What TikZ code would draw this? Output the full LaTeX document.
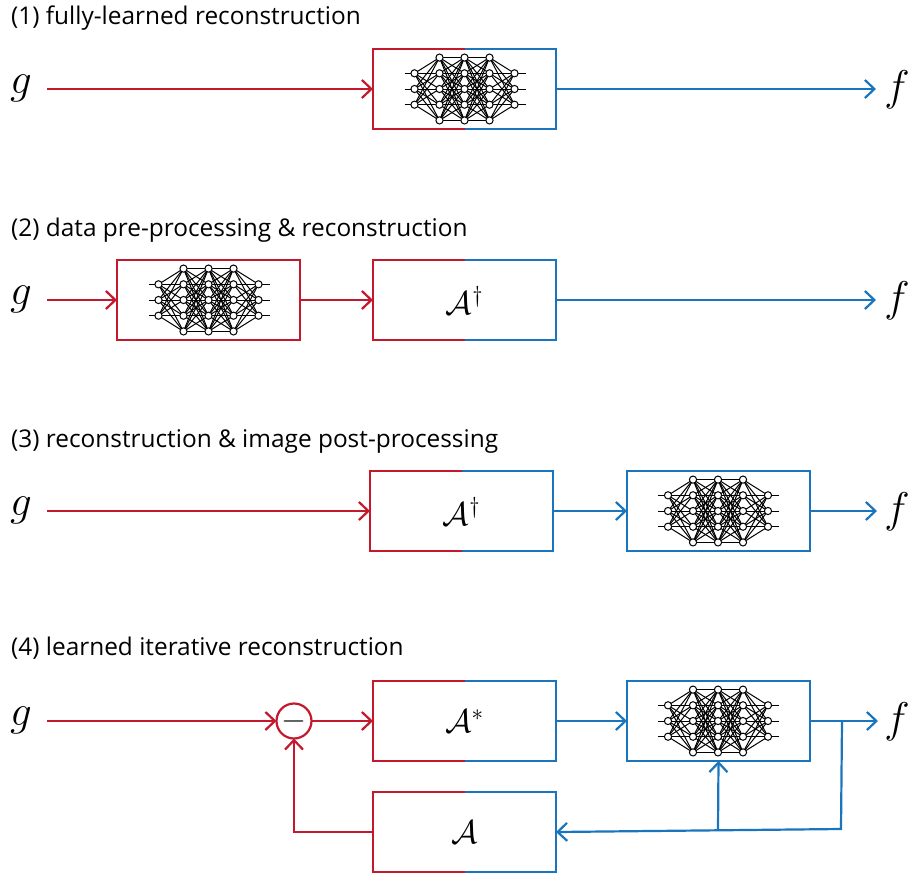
\documentclass[tikz,border=0pt]{standalone}
\usepackage{fix-cm}
\usepackage{fontspec}
\setmainfont{Open Sans}
\usetikzlibrary{arrows.meta}
\definecolor{myred}{HTML}{C4182D}
\definecolor{myblue}{HTML}{1B75BC}
\tikzset{
  conn/.style={line width=2.2pt,-{Straight Barb[length=9.5pt,width=18pt,line width=2.2pt]}},
  plain/.style={line width=2.2pt},
  redline/.style={color=myred},
  blueline/.style={color=myblue},
  boxnode/.style={minimum width=183pt,minimum height=80pt,inner sep=0pt,outer sep=0pt,font=\fontsize{33}{33}\selectfont},
  heading/.style={anchor=base west,inner sep=0pt,font=\fontsize{24.4}{28}\selectfont},
  sym/.style={inner sep=0pt,font=\fontsize{43}{43}\selectfont},
  netedge/.style={line width=1pt,black},
  netcell/.style={line width=1pt,draw=black,fill=white},
}
\newcommand{\nnet}[2]{%
  \begin{scope}[shift={(#1,#2)}]
    % input and output stubs
    \foreach \yy in {-15.7,0,15.7}{
      \draw[netedge] (-60,\yy) -- (-50,\yy);
      \draw[netedge] (50,\yy) -- (61,\yy);
    }
    % edges between layers
    \foreach \ya in {-15.7,0,15.7}{
      \foreach \yb in {-31.4,-15.7,0,15.7,31.4}{
        \draw[netedge] (-50,\ya) -- (-25,\yb);
        \draw[netedge] (25,\yb) -- (50,\ya);
      }
    }
    \foreach \ya in {-31.4,-15.7,0,15.7,31.4}{
      \foreach \yb in {-31.4,-15.7,0,15.7,31.4}{
        \draw[netedge] (-25,\ya) -- (0,\yb);
        \draw[netedge] (0,\ya) -- (25,\yb);
      }
    }
    \foreach \xx in {-50,50}{
      \foreach \yy in {-15.7,0,15.7}{
        \draw[netcell] (\xx,\yy) circle (3.6);
      }
    }
    \foreach \xx in {-25,0,25}{
      \foreach \yy in {-31.4,-15.7,0,15.7,31.4}{
        \draw[netcell] (\xx,\yy) circle (3.6);
      }
    }
  \end{scope}%
}
% name, cx, cy, text : box half red, half blue
\newcommand{\splitbox}[4]{%
  \node[boxnode] (#1) at (#2,#3) {#4};
  \draw[plain,redline] (#1.north) -| (#1.west) |- (#1.south);
  \draw[plain,blueline] (#1.north) -| (#1.east) |- (#1.south);
}
% name, cx, cy, colour
\newcommand{\fullbox}[4]{%
  \node[boxnode,draw=#4,line width=2.2pt] (#1) at (#2,#3) {};
}
\begin{document}
\begin{tikzpicture}[x=1pt,y=-1pt]
\useasboundingbox (0,0) rectangle (910,873);

% headings
\node[heading] (h1) at (11,24) {(1) fully-learned reconstruction};
\node[heading] (h2) at (11,236) {(2) data pre-processing \& reconstruction};
\node[heading] (h3) at (11,447) {(3) reconstruction \& image post-processing};
\node[heading] (h4) at (11,655) {(4) learned iterative reconstruction};

% row 1
\node[sym] (g1) at (21,88) {$g$};
\node[sym] (f1) at (897,90) {$f$};
\splitbox{b1}{464.5}{89}{}
\nnet{464.5}{89}
\coordinate (g1o) at (47,89);
\coordinate (f1i) at (876,89);
\draw[conn,redline] (g1o) -- (b1.west);
\draw[conn,blueline] (b1.east) -- (f1i);

% row 2
\node[sym] (g2) at (21,299) {$g$};
\node[sym] (f2) at (897,301) {$f$};
\fullbox{p2}{208.5}{300}{myred}
\nnet{208.5}{300}
\splitbox{b2}{464.5}{300}{$\mathcal{A}^{\dagger}$}
\coordinate (g2o) at (47,300);
\coordinate (f2i) at (876,300);
\draw[conn,redline] (g2o) -- (p2.west);
\draw[conn,redline] (p2.east) -- (b2.west);
\draw[conn,blueline] (b2.east) -- (f2i);

% row 3
\node[sym] (g3) at (21,510) {$g$};
\node[sym] (f3) at (897,512) {$f$};
\splitbox{b3}{461.5}{511}{$\mathcal{A}^{\dagger}$}
\fullbox{p3}{718.5}{511}{myblue}
\nnet{718}{511}
\coordinate (g3o) at (47,511);
\coordinate (f3i) at (877,511);
\draw[conn,redline] (g3o) -- (b3.west);
\draw[conn,blueline] (b3.east) -- (p3.west);
\draw[conn,blueline] (p3.east) -- (f3i);

% row 4
\node[sym] (g4) at (21,720) {$g$};
\node[sym] (f4) at (897,722) {$f$};
\node[circle,draw=myred,line width=2.2pt,minimum size=35pt,inner sep=0pt,outer sep=0pt,font=\fontsize{28}{28}\selectfont\boldmath,text=black!70] (m) at (294,721) {$-$};
\splitbox{b4}{464.5}{721}{$\mathcal{A}^{*}$}
\fullbox{p4}{718.5}{721}{myblue}
\nnet{718}{721}
\splitbox{a4}{464.5}{832}{$\mathcal{A}$}
\coordinate (g4o) at (47,721);
\coordinate (f4i) at (878,721);
\coordinate (j1) at (842,721);
\coordinate (j2) at (841,829);
\coordinate (j3) at (718,830.3);
\draw[conn,redline] (g4o) -- (m.west);
\draw[conn,redline] (m.east) -- (b4.west);
\draw[conn,blueline] (b4.east) -- (p4.west);
\draw[conn,blueline] (p4.east) -- (f4i);
\draw[plain,blueline] (j1) -- (j2) -- (j3);
\draw[conn,blueline] (j3) -- (a4.east);
\draw[conn,blueline] (j3) -- (p4.south);
\draw[conn,redline] (a4.west) -| (m.south);
\end{tikzpicture}
\end{document}
